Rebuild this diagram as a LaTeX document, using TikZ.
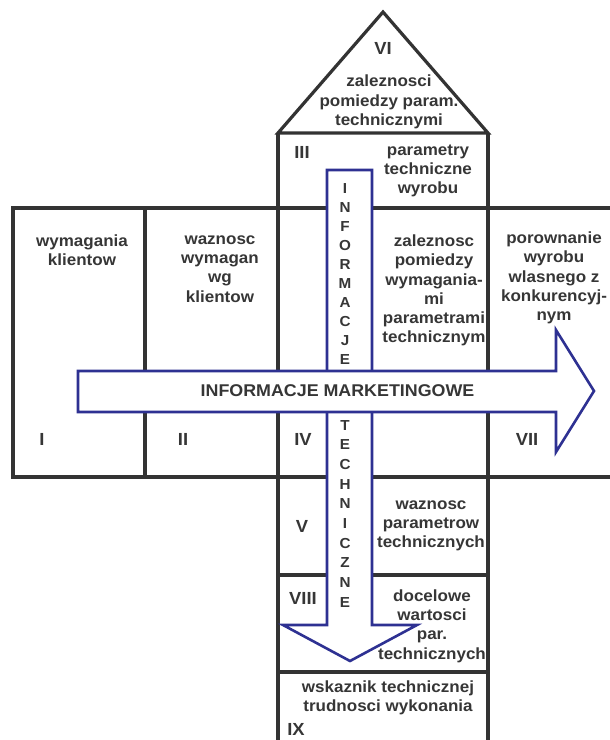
\documentclass[tikz,border=0pt]{standalone}
\usepackage{fontspec}
\setmainfont{Liberation Sans}[FakeStretch=1.05]
\definecolor{gridline}{HTML}{333333}
\definecolor{inkgray}{HTML}{363636}
\definecolor{flowblue}{HTML}{2E3192}
\tikzset{
  grid/.style={draw=gridline, line width=3.2pt, line cap=butt},
  flow/.style={draw=flowblue, fill=white, line width=2.6pt, line join=miter},
  cell/.style={text=inkgray, inner sep=0pt, align=center,
    font=\fontsize{16.2}{19.3}\selectfont\bfseries},
  numeral/.style={text=inkgray, inner sep=0pt,
    font=\fontsize{17.5}{20}\selectfont\bfseries},
  vletter/.style={text=inkgray, inner sep=0pt, anchor=base,
    font=\fontsize{14.5}{16}\selectfont\bfseries},
  title/.style={text=inkgray, inner sep=0pt,
    font=\fontsize{17}{20}\selectfont\bfseries}
}
\begin{document}
\begin{tikzpicture}[x=1pt, y=-1pt]
\useasboundingbox (0,0) rectangle (610,740);
\clip (0,0) rectangle (610,740);
\fill[white] (0,0) rectangle (610,740);

% frame of the house
\coordinate (apex) at (383,12);
\coordinate (roofL) at (278,133);
\coordinate (roofR) at (488,133);
\draw[grid, line join=miter] (roofL) -- (apex) -- (roofR) -- cycle;
\draw[grid] (roofL) -- (278,745);
\draw[grid] (roofR) -- (488,745);
\draw[grid] (13,208) -- (612,208);
\draw[grid] (13,477) -- (612,477);
\draw[grid] (13,206.4) -- (13,478.6);
\draw[grid] (145,208) -- (145,477);
\draw[grid] (278,575) -- (488,575);
\draw[grid] (278,672) -- (488,672);

% roman numerals
\node[numeral] (nVI)   at (383,48.5) {VI};
\node[numeral] (nIII)  at (302,152) {III};
\node[numeral] (nI)    at (42,439) {I};
\node[numeral] (nII)   at (183,439) {II};
\node[numeral] (nIV)   at (303,439) {IV};
\node[numeral] (nVII)  at (527,439.5) {VII};
\node[numeral] (nV)    at (302,526) {V};
\node[numeral] (nVIII) at (303,598) {VIII};
\node[numeral] (nIX)   at (296,729.5) {IX};

% cell descriptions
\node[cell] (roof)   at (389,102) {zaleznosci\\pomiedzy param.\\technicznymi};
\node[cell] (params) at (428,171) {parametry\\techniczne\\wyrobu};
\node[cell] (req)    at (82,250.5) {wymagania\\klientow};
\node[cell] (weight) at (220,269) {waznosc\\wymagan\\wg\\klientow};
\node[cell] (rel)    at (434,290.5) {zaleznosc\\pomiedzy\\wymagania-\\mi\\parametrami\\technicznym};
\node[cell] (comp)   at (554,278) {porownanie\\wyrobu\\wlasnego z\\konkurencyj-\\nym};
\node[cell] (pimp)   at (431,526) {waznosc\\parametrow\\technicznych};
\node[cell] (target) at (432,626) {docelowe\\wartosci\\par.\\technicznych};
\node[cell] (diff)   at (388,697.5) {wskaznik technicznej\\trudnosci wykonania};

% technical information flow (downward arrow)
\coordinate (d1) at (327,170);
\coordinate (d2) at (372,170);
\coordinate (d3) at (372,625);
\coordinate (d4) at (417,625);
\coordinate (d5) at (350,661);
\coordinate (d6) at (283,625);
\coordinate (d7) at (327,625);
\draw[flow] (d1) -- (d2) -- (d3) -- (d4) -- (d5) -- (d6) -- (d7) -- cycle;
\foreach \c [count=\i] in {I,N,F,O,R,M,A,C,J,E}
  \node[vletter] (vu\i) at (345,{193+(\i-1)*19.1}) {\c};
\foreach \c [count=\i] in {T,E,C,H,N,I,C,Z,N,E}
  \node[vletter] (vd\i) at (345,{430+(\i-1)*19.67}) {\c};

% marketing information flow (rightward arrow)
\coordinate (h1) at (78,371);
\coordinate (h2) at (556,371);
\coordinate (h3) at (556,330);
\coordinate (h4) at (594,391);
\coordinate (h5) at (556,452);
\coordinate (h6) at (556,412);
\coordinate (h7) at (78,412);
\draw[flow] (h1) -- (h2) -- (h3) -- (h4) -- (h5) -- (h6) -- (h7) -- cycle;
\node[title] (mkt) at (337.5,391) {INFORMACJE MARKETINGOWE};
\end{tikzpicture}
\end{document}
